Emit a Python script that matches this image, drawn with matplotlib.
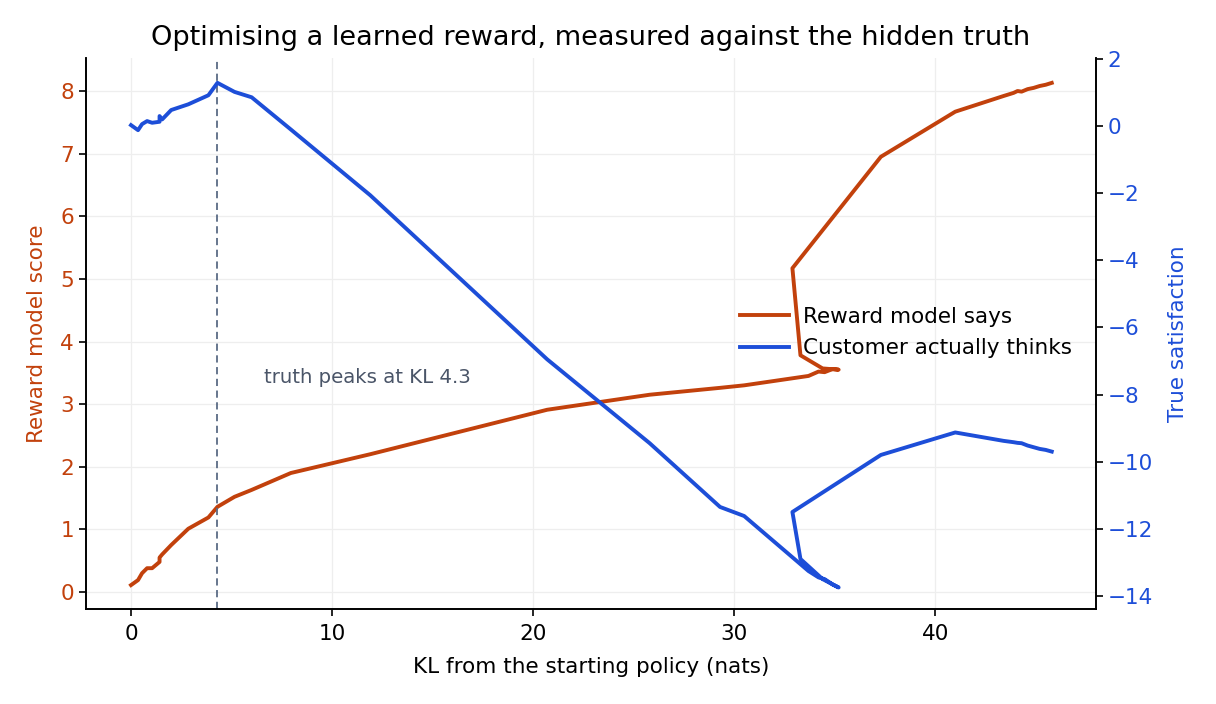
import matplotlib
matplotlib.use("Agg")
import matplotlib.pyplot as plt

# KL from the starting policy (nats), per optimisation step
kl = [0.0, 0.35, 0.55, 0.8, 1.05, 1.42, 1.42, 1.55, 2.0, 2.85, 3.85, 4.3, 5.15, 6.0,
      7.95, 11.9, 20.7, 25.8, 29.3, 30.5, 33.7, 34.2, 34.5, 34.9, 35.2, 34.4, 33.3, 32.9,
      37.3, 41.0, 43.4, 43.9, 44.1, 44.3, 44.6, 44.9, 45.2, 45.5, 45.8]
# Reward model score
reward = [0.11, 0.19, 0.30, 0.38, 0.38, 0.48, 0.55, 0.60, 0.75, 1.01, 1.19, 1.36, 1.52, 1.63,
          1.90, 2.20, 2.91, 3.15, 3.26, 3.30, 3.45, 3.52, 3.51, 3.56, 3.55, 3.57, 3.78, 5.17,
          6.95, 7.67, 7.92, 7.97, 8.00, 7.99, 8.03, 8.05, 8.08, 8.10, 8.13]
# True satisfaction
truth = [0.03, -0.12, 0.06, 0.15, 0.10, 0.13, 0.30, 0.20, 0.48, 0.65, 0.92, 1.29, 1.02, 0.86,
         -0.10, -2.06, -6.95, -9.45, -11.35, -11.62, -13.26, -13.45, -13.5, -13.66, -13.75, -13.5, -12.9, -11.5,
         -9.80, -9.13, -9.38, -9.42, -9.44, -9.45, -9.52, -9.57, -9.62, -9.65, -9.70]
peak_kl = 4.3

ORANGE = "#c2410c"
BLUE = "#1d4ed8"

fig = plt.figure(figsize=(12.16, 7.04), dpi=100)
ax = fig.add_axes([0.0707, 0.135, 0.9013 - 0.0707, 0.9176 - 0.135])
ax2 = ax.twinx()

l1, = ax.plot(kl, reward, color=ORANGE, lw=2.8, label="Reward model says", solid_joinstyle="round")
l2, = ax2.plot(kl, truth, color=BLUE, lw=2.8, label="Customer actually thinks", solid_joinstyle="round")

ax.axvline(peak_kl, color="#5a6b85", lw=1.3, ls=(0, (4, 2.5)))
ax.text(6.6, 3.43, f"truth peaks at KL {peak_kl}", color="#4a5568", fontsize=14.2, va="center")

ax.set_xlim(-2.24, 48.0)
ax.set_ylim(-0.271, 8.527)
ax2.set_ylim(-14.39, 2.03)
ax.set_xticks([0, 10, 20, 30, 40])
ax.set_yticks(range(0, 9))
ax2.set_yticks(range(-14, 3, 2))

ax.grid(True, color="#eeeeee", lw=0.9)
ax.set_axisbelow(True)

for a in (ax, ax2):
    a.spines["top"].set_visible(False)
    for s in a.spines.values():
        s.set_linewidth(1.2)
ax.tick_params(axis="both", labelsize=15.5, width=1.2, length=5)
ax.tick_params(axis="x", pad=6)
ax.tick_params(axis="y", labelcolor=ORANGE)
ax2.tick_params(axis="y", labelsize=15.5, labelcolor=BLUE, width=1.2, length=5)

ax.set_xlabel("KL from the starting policy (nats)", fontsize=15.5, labelpad=9)
ax.set_ylabel("Reward model score", fontsize=15.5, color=ORANGE, labelpad=10)
ax2.set_ylabel("True satisfaction", fontsize=15.5, color=BLUE, labelpad=11)
ax.set_title("Optimising a learned reward, measured against the hidden truth", fontsize=19.5, pad=9.5)

ax2.legend([l1, l2], [l1.get_label(), l2.get_label()], loc="center left",
           bbox_to_anchor=(0.628, 0.502), frameon=False, fontsize=15.5,
           handlelength=2.3, handletextpad=0.65, labelspacing=0.53)

fig.savefig("out.png", dpi=100)
